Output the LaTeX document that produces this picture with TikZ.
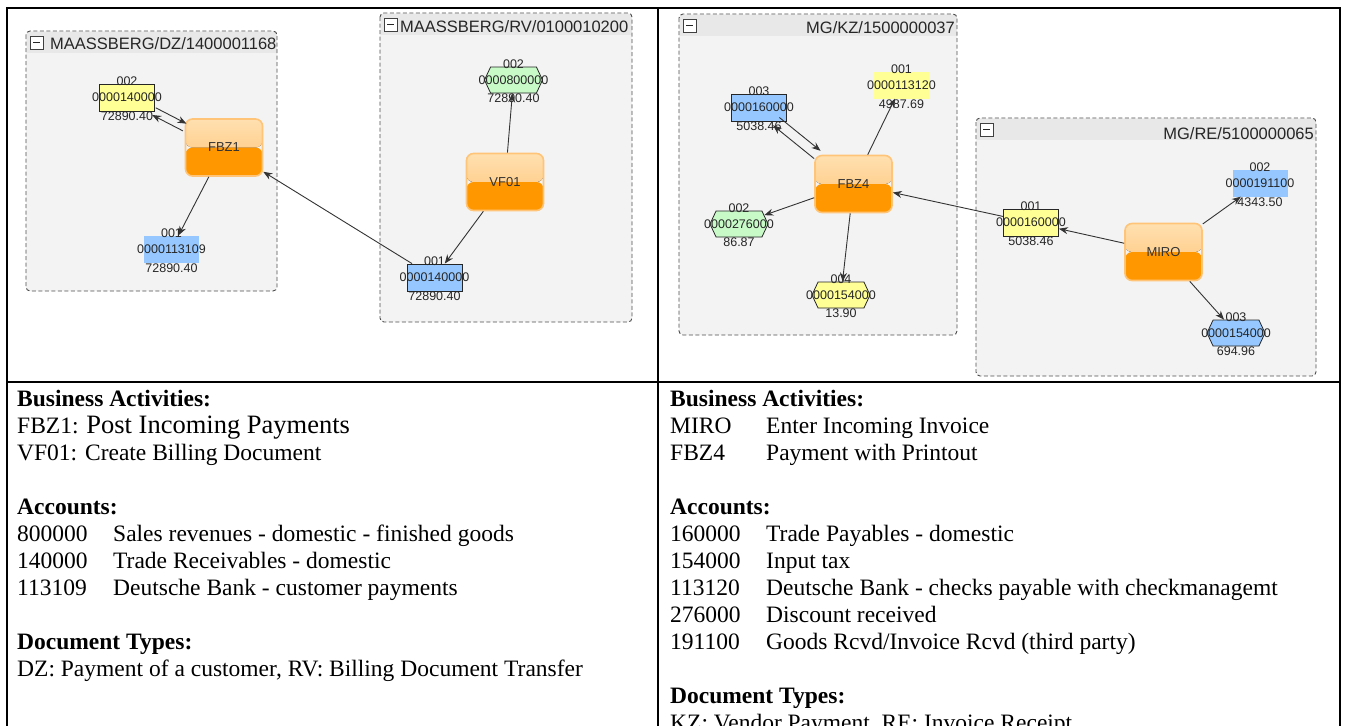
\documentclass[tikz,border=0pt]{standalone}
\usepackage{fontspec}
\setmainfont{Liberation Serif}
\newfontfamily\diagsans{Liberation Sans}
\usetikzlibrary{arrows.meta,shapes.symbols}

\definecolor{acctyellow}{RGB}{255,255,150}
\definecolor{acctblue}{RGB}{150,200,255}
\definecolor{acctgreen}{RGB}{200,250,200}
\definecolor{acttop}{RGB}{255,224,176}
\definecolor{actmid}{RGB}{255,194,116}
\definecolor{actbottom}{RGB}{255,152,0}
\definecolor{actborder}{RGB}{255,196,120}
\definecolor{groupfill}{RGB}{243,243,243}
\definecolor{grouphead}{RGB}{232,232,232}

\newcommand{\acctnum}[1]{\makebox[0pt]{#1}}
\newcommand{\tabbed}[2]{\makebox[96pt][l]{#1}#2}

\tikzset{
	frame/.style={line width=2pt},
	groupline/.style={draw=black!70, dash pattern=on 4pt off 2.5pt, line width=0.9pt, rounded corners=4pt},
	grouptitle/.style={font=\diagsans\fontsize{16.5}{18}\selectfont, text=black!85, inner sep=0pt},
	activity/.style={rectangle, rounded corners=7pt, minimum width=77pt, minimum height=57pt,
		draw=actborder, line width=1.6pt, font=\diagsans\fontsize{13}{15}\selectfont, text=black!80,
		path picture={
			\fill[top color=acttop, bottom color=actmid] (path picture bounding box.north west) rectangle (path picture bounding box.east);
			\fill[actbottom] (path picture bounding box.west) rectangle (path picture bounding box.south east);
		}},
	every label/.style={font=\diagsans\fontsize{12.5}{15}\selectfont, text=black!85, inner sep=0pt},
	toplbl/.style={yshift=-2.5pt},
	botlbl/.style={yshift=-0.5pt},
	acct/.style 2 args={label={[toplbl]above:#1}, label={[botlbl]below:#2}},
	acctbase/.style={inner sep=0pt, minimum width=55pt, minimum height=27pt,
		font=\diagsans\fontsize{12.5}{15}\selectfont, text=black!85},
	rectacct/.style={acctbase, rectangle, draw=black!85, line width=0.8pt},
	plainacct/.style={acctbase, rectangle},
	hexacct/.style={acctbase, signal, signal to=east and west, signal pointer angle=130,
		draw=black!85, line width=0.8pt, minimum width=58pt, minimum height=26pt},
	link/.style={->, draw=black!80, line width=0.9pt},
	notes/.style={font=\fontsize{23.5}{27}\selectfont, align=left, inner sep=0pt, anchor=north west}
}

\begin{document}
\begin{tikzpicture}[x=1pt,y=-1pt,>={Stealth[length=9pt,width=7pt]}]
	\useasboundingbox (0,0) rectangle (1345,726);
	\clip (0,0) rectangle (1345,726);

	\foreach \xa/\ya/\xb/\yb in {26/31/277/291, 380/13/632/322, 679/14/957/335, 976/118/1316/376}{
		\fill[groupfill, rounded corners=4pt] (\xa,\ya) rectangle (\xb,\yb);
		\fill[grouphead] (\xa+0.5,\ya+0.5) rectangle (\xb-0.5,\ya+22);
		\draw[groupline] (\xa,\ya) rectangle (\xb,\yb);
		\draw[fill=white, draw=black!75, line width=0.8pt] (\xa+4,\ya+5) rectangle +(13,13);
		\draw[line width=1.6pt, black!85] (\xa+7,\ya+11.5) -- +(7,0);
	}
	\node[grouptitle, anchor=base west] (dztitle) at (50,49) {MAASSBERG/DZ/1400001168};
	\node[grouptitle, anchor=base west] (rvtitle) at (400,32) {MAASSBERG/RV/0100010200};
	\node[grouptitle, anchor=base east] (kztitle) at (955,33) {MG/KZ/1500000037};
	\node[grouptitle, anchor=base east] (retitle) at (1314,139) {MG/RE/5100000065};

	\node[activity] (fbz1) at (224,147.5) {FBZ1};
	\node[activity] (vf01) at (505,182) {VF01};
	\node[activity] (fbz4) at (853.5,184) {FBZ4};
	\node[activity] (miro) at (1163.5,252) {MIRO};

	\node[rectacct, fill=acctyellow, acct={002}{72890.40}] (y1) at (127,97.5) {\acctnum{0000140000}};
	\node[plainacct, fill=acctblue, acct={001}{72890.40}] (b1) at (171.5,249) {\acctnum{0000113109}};
	\node[hexacct, fill=acctgreen, acct={002}{72890.40}] (g1) at (513.5,80) {\acctnum{0000800000}};
	\node[rectacct, fill=acctblue, acct={001}{72890.40}] (b2) at (434.5,277.5) {\acctnum{0000140000}};

	\node[rectacct, fill=acctblue, acct={003}{5038.46}] (b3) at (759,107.5) {\acctnum{0000160000}};
	\node[plainacct, fill=acctyellow, acct={001}{4987.69}] (y2) at (901.5,85) {\acctnum{0000113120}};
	\node[hexacct, fill=acctgreen, acct={002}{86.87}] (g2) at (739,224) {\acctnum{0000276000}};
	\node[hexacct, fill=acctyellow, acct={004}{13.90}] (y4) at (841,295) {\acctnum{0000154000}};
	\node[rectacct, fill=acctyellow, acct={001}{5038.46}] (y3) at (1031,222.5) {\acctnum{0000160000}};
	\node[plainacct, fill=acctblue, acct={002}{4343.50}] (b4) at (1260,183) {\acctnum{0000191100}};
	\node[hexacct, fill=acctblue, acct={003}{694.96}] (b5) at (1236,333) {\acctnum{0000154000}};

	\draw[link, transform canvas={xshift=1.8pt,yshift=3.6pt}] (y1) -- (fbz1);
	\draw[link, transform canvas={xshift=-1.8pt,yshift=-3.6pt}] (fbz1) -- (y1);
	\draw[link] (fbz1) -- (b1);
	\draw[link] (b2) -- (fbz1);
	\draw[link] (vf01) -- (g1);
	\draw[link] (vf01) -- (b2);
	\draw[link, transform canvas={xshift=3.2pt,yshift=3.9pt}] (b3) -- (fbz4);
	\draw[link, transform canvas={xshift=-3.2pt,yshift=-3.9pt}] (fbz4) -- (b3);
	\draw[link] (fbz4) -- (y2);
	\draw[link] (fbz4) -- (g2);
	\draw[link] (fbz4) -- (y4);
	\draw[link] (y3) -- (fbz4);
	\draw[link] (miro) -- (y3);
	\draw[link] (miro) -- (b4);
	\draw[link] (miro) -- (b5);

	\draw[frame] (7,8) -- (1340,8);
	\draw[frame] (7,7) -- (7,726);
	\draw[frame] (1340,7) -- (1340,726);
	\draw[frame] (658,8) -- (658,726);
	\draw[frame] (7,382) -- (1340,382);

	\node[notes] (leftnotes) at (17,389.5) {\textbf{Business Activities:}\\
		FBZ1: {\fontsize{26.5}{27}\selectfont Post Incoming Payments}\\
		VF01: Create Billing Document\\[27pt]
		\textbf{Accounts:}\\
		\tabbed{800000}{Sales revenues - domestic - finished goods}\\
		\tabbed{140000}{Trade Receivables - domestic}\\
		\tabbed{113109}{Deutsche Bank - customer payments}\\[27pt]
		\textbf{Document Types:}\\
		DZ: Payment of a customer, RV: Billing Document Transfer};
	\node[notes] (rightnotes) at (670,389.5) {\textbf{Business Activities:}\\
		\tabbed{MIRO}{Enter Incoming Invoice}\\
		\tabbed{FBZ4}{Payment with Printout}\\[27pt]
		\textbf{Accounts:}\\
		\tabbed{160000}{Trade Payables - domestic}\\
		\tabbed{154000}{Input tax}\\
		\tabbed{113120}{Deutsche Bank - checks payable with checkmanagemt}\\
		\tabbed{276000}{Discount received}\\
		\tabbed{191100}{Goods Rcvd/Invoice Rcvd (third party)}\\[27pt]
		\textbf{Document Types:}\\
		KZ: Vendor Payment, RE: Invoice Receipt};
\end{tikzpicture}
\end{document}
